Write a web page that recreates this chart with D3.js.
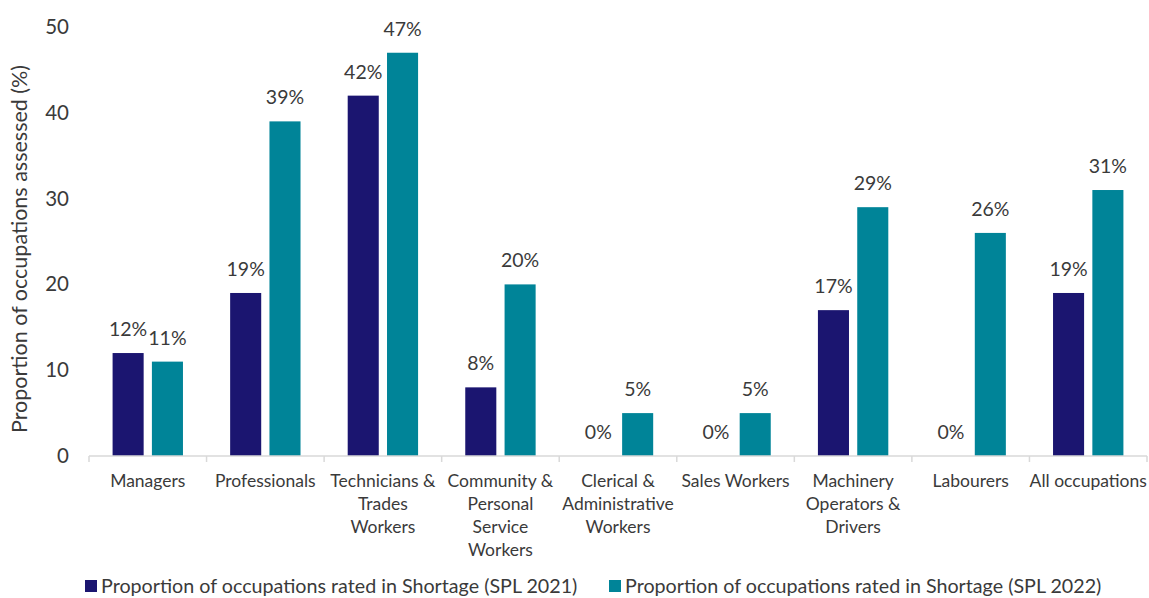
<!DOCTYPE html>
<html>
<head>
<meta charset="utf-8">
<script src="https://cdn.jsdelivr.net/npm/d3@7"></script>
<style>
  html, body { margin: 0; padding: 0; background: #fff; }
  svg { display: block; font-family: Lato, "Open Sans", sans-serif; }
</style>
</head>
<body>
<svg id="chart" width="1149" height="598"></svg>
<script>
// Occupation groups, each label split into its display lines
const categories = [
  ["Managers"],
  ["Professionals"],
  ["Technicians &", "Trades", "Workers"],
  ["Community &", "Personal", "Service", "Workers"],
  ["Clerical &", "Administrative", "Workers"],
  ["Sales Workers"],
  ["Machinery", "Operators &", "Drivers"],
  ["Labourers"],
  ["All occupations"]
];
const seriesNames = [
  "Proportion of occupations rated in Shortage (SPL 2021)",
  "Proportion of occupations rated in Shortage (SPL 2022)"
];
const spl2021 = [12, 19, 42, 8, 0, 0, 17, 0, 19];
const spl2022 = [11, 39, 47, 20, 5, 5, 29, 26, 31];
const yTicks = [0, 10, 20, 30, 40, 50];
const yTitle = "Proportion of occupations assessed (%)";

const colors = ["#1b1570", "#008498"];
const textColor = "#3a3a3a";

const svg = d3.select("#chart");
const margin = { left: 89, right: 2, top: 27, bottom: 142 };
const width = 1149, height = 598;

const keys = categories.map((c, i) => i);
const x = d3.scaleBand().domain(keys).range([margin.left, width - margin.right]).paddingInner(0).paddingOuter(0);
const x1 = d3.scaleBand().domain([0, 1]).range([0, x.bandwidth()]).paddingInner(0.21).paddingOuter(0.6);
const y = d3.scaleLinear().domain([0, 50]).range([height - margin.bottom, margin.top]);

const rows = keys.map(i => [spl2021[i], spl2022[i]]);

// Bars
const groups = svg.append("g").selectAll("g").data(rows).join("g")
  .attr("transform", (d, i) => `translate(${x(i)},0)`);
groups.selectAll("rect").data(d => d.map((v, s) => ({ v, s }))).join("rect")
  .attr("x", d => x1(d.s))
  .attr("width", x1.bandwidth())
  .attr("y", d => y(d.v))
  .attr("height", d => y(0) - y(d.v))
  .attr("fill", d => colors[d.s]);

// Value labels above each bar
groups.selectAll("text").data(d => d.map((v, s) => ({ v, s }))).join("text")
  .attr("x", d => x1(d.s) + x1.bandwidth() / 2)
  .attr("y", d => y(d.v) - 17)
  .attr("text-anchor", "middle")
  .attr("font-size", 19.5)
  .attr("fill", textColor)
  .text(d => d.v + "%");

// Category axis: baseline with tick marks at band edges
const base = y(0);
svg.append("line")
  .attr("x1", x.range()[0]).attr("x2", x.range()[1])
  .attr("y1", base).attr("y2", base)
  .attr("stroke", "#d9d9d9").attr("stroke-width", 1.5);
const edges = keys.map(i => x(i)).concat([x.range()[1]]);
svg.append("g").selectAll("line").data(edges).join("line")
  .attr("x1", d => d).attr("x2", d => d)
  .attr("y1", base).attr("y2", base + 6)
  .attr("stroke", "#d9d9d9").attr("stroke-width", 1.5);

const catLabels = svg.append("g").selectAll("text").data(categories).join("text")
  .attr("text-anchor", "middle")
  .attr("font-size", 17.5)
  .attr("fill", textColor)
  .attr("transform", (d, i) => `translate(${x(i) + x.bandwidth() / 2},${base + 31})`);
catLabels.selectAll("tspan").data(d => d).join("tspan")
  .attr("x", 0)
  .attr("dy", (d, j) => j === 0 ? 0 : 23)
  .text(d => d);

// Value axis (labels only)
const yAxis = d3.axisLeft(y).tickValues(yTicks).tickSize(0).tickPadding(20);
const yg = svg.append("g").attr("transform", `translate(${margin.left},0)`).call(yAxis);
yg.select(".domain").remove();
yg.selectAll("text")
  .attr("font-family", "Lato, 'Open Sans', sans-serif")
  .attr("font-size", 20.5)
  .attr("fill", textColor);

svg.append("text")
  .attr("transform", `translate(27,${249}) rotate(-90)`)
  .attr("text-anchor", "middle")
  .attr("font-size", 21.5)
  .attr("fill", textColor)
  .text(yTitle);

// Legend
const legendX = [85, 609];
const legend = svg.append("g").selectAll("g").data(seriesNames).join("g")
  .attr("transform", (d, i) => `translate(${legendX[i]},580)`);
legend.append("rect").attr("width", 12).attr("height", 12).attr("fill", (d, i) => colors[i]);
legend.append("text")
  .attr("x", 16).attr("y", 12.5)
  .attr("font-size", 19.7)
  .attr("fill", textColor)
  .text(d => d);
</script>
</body>
</html>
